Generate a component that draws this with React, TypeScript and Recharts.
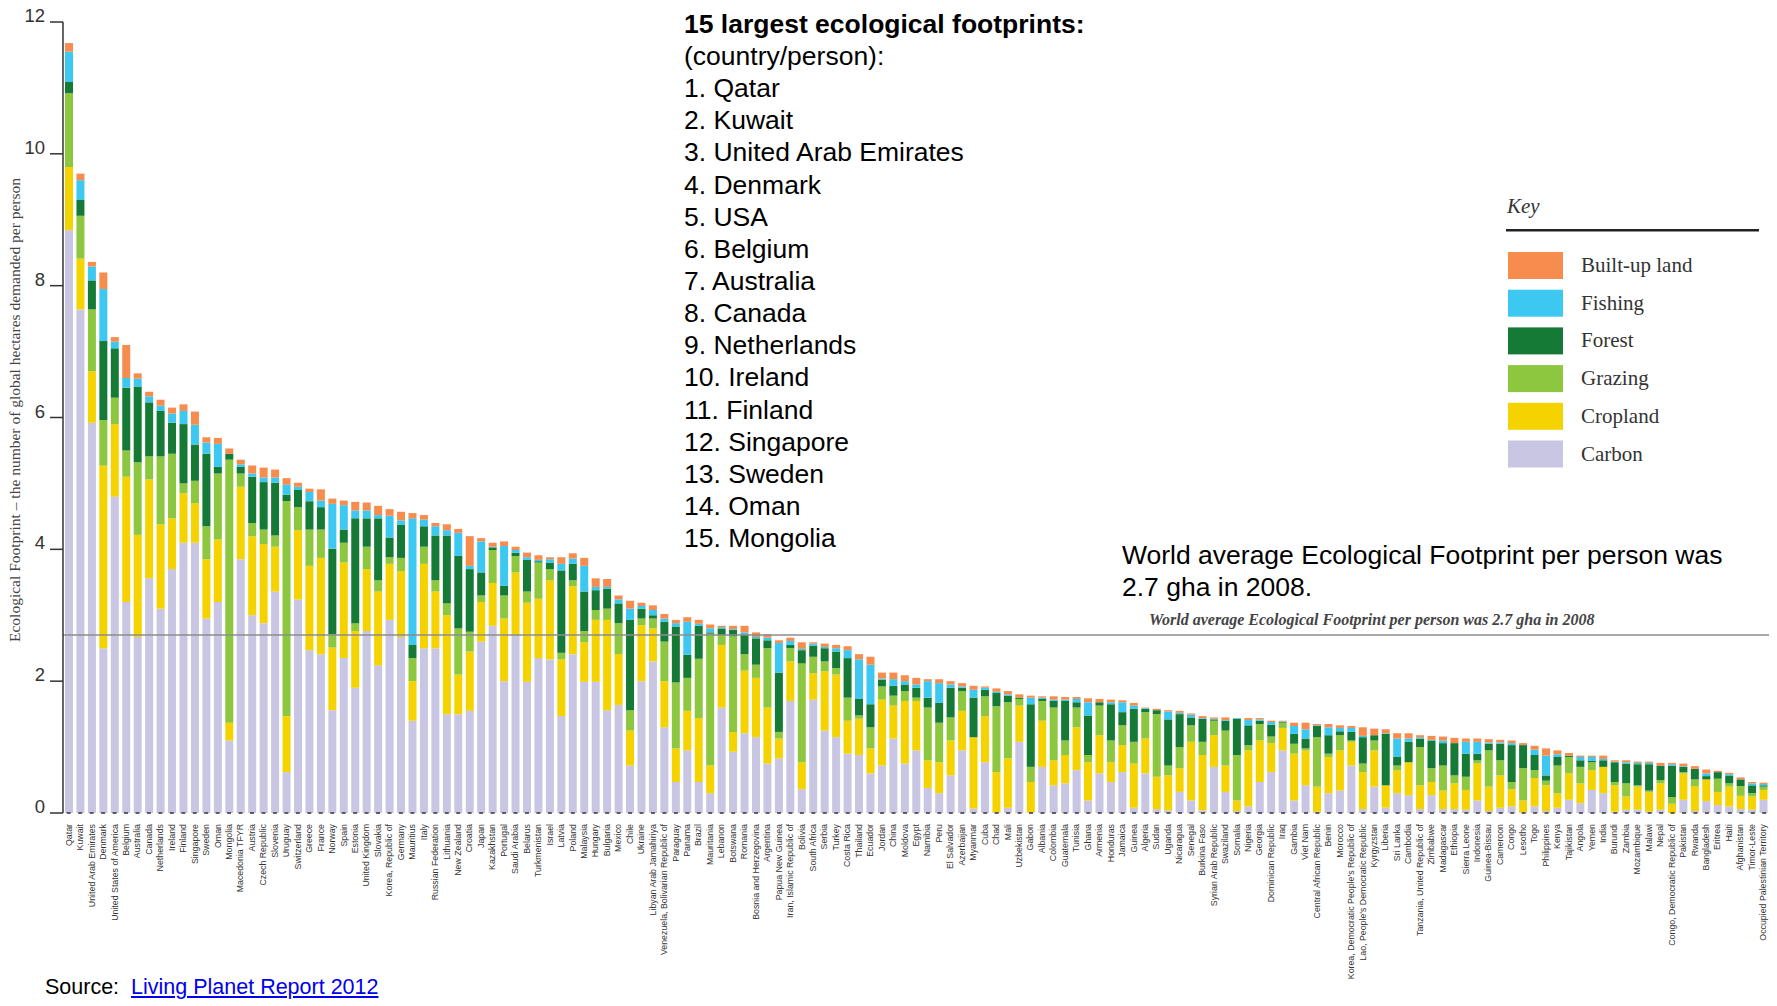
import React from "react";
import { BarChart, Bar, XAxis, YAxis, ReferenceLine } from "recharts";

const countries = [
  "Qatar", "Kuwait", "United Arab Emirates", "Denmark", "United States of America", "Belgium", "Australia", "Canada", "Netherlands", "Ireland",
  "Finland", "Singapore", "Sweden", "Oman", "Mongolia", "Macedonia TFYR", "Austria", "Czech Republic", "Slovenia", "Uruguay",
  "Switzerland", "Greece", "France", "Norway", "Spain", "Estonia", "United Kingdom", "Slovakia", "Korea, Republic of", "Germany",
  "Mauritius", "Italy", "Russian Federation", "Lithuania", "New Zealand", "Croatia", "Japan", "Kazakhstan", "Portugal", "Saudi Arabia",
  "Belarus", "Turkmenistan", "Israel", "Latvia", "Poland", "Malaysia", "Hungary", "Bulgaria", "Mexico", "Chile",
  "Ukraine", "Libyan Arab Jamahiriya", "Venezuela, Bolivarian Republic of", "Paraguay", "Panama", "Brazil", "Mauritania", "Lebanon", "Botswana", "Romania",
  "Bosnia and Herzegovina", "Argentina", "Papua New Guinea", "Iran, Islamic Republic of", "Bolivia", "South Africa", "Serbia", "Turkey", "Costa Rica", "Thailand",
  "Ecuador", "Jordan", "China", "Moldova", "Egypt", "Namibia", "Peru", "El Salvador", "Azerbaijan", "Myanmar",
  "Cuba", "Chad", "Mali", "Uzbekistan", "Gabon", "Albania", "Colombia", "Guatemala", "Tunisia", "Ghana",
  "Armenia", "Honduras", "Jamaica", "Guinea", "Algeria", "Sudan", "Uganda", "Nicaragua", "Senegal", "Burkina Faso",
  "Syrian Arab Republic", "Swaziland", "Somalia", "Nigeria", "Georgia", "Dominican Republic", "Iraq", "Gambia", "Viet Nam", "Central African Republic",
  "Benin", "Morocco", "Korea, Democratic People's Republic of", "Lao, People's Democratic Republic", "Kyrgyzstan", "Liberia", "Sri Lanka", "Cambodia", "Tanzania, United Republic of", "Zimbabwe",
  "Madagascar", "Ethiopia", "Sierra Leone", "Indonesia", "Guinea-Bissau", "Cameroon", "Congo", "Lesotho", "Togo", "Philippines",
  "Kenya", "Tajikistan", "Angola", "Yemen", "India", "Burundi", "Zambia", "Mozambique", "Malawi", "Nepal",
  "Congo, Democratic Republic of", "Pakistan", "Rwanda", "Bangladesh", "Eritrea", "Haiti", "Afghanistan", "Timor-Leste", "Occupied Palestinian Territory",
];

const carbon = [
  8.84, 7.64, 5.92, 2.5, 4.8, 3.2, 2.67, 3.56, 3.1, 3.7,
  4.1, 4.1, 2.95, 3.2, 1.1, 3.85, 3.0, 2.88, 3.36, 0.62,
  3.24, 2.47, 2.41, 1.56, 2.35, 1.9, 2.76, 2.24, 2.93, 2.67,
  1.4, 2.5, 2.5, 1.5, 1.5, 1.55, 2.6, 2.84, 2.0, 2.7,
  1.99, 2.35, 2.33, 1.47, 2.41, 1.99, 1.99, 1.56, 1.64, 0.72,
  2.0, 2.3, 1.3, 0.47, 0.95, 0.47, 0.3, 1.6, 0.93, 1.21,
  1.15, 0.75, 0.83, 1.7, 0.36, 1.72, 1.25, 1.15, 0.9, 0.88,
  0.6, 0.72, 1.13, 0.75, 0.95, 0.38, 0.3, 0.57, 0.95, 0.07,
  0.77, 0.01, 0.08, 1.08, 0.01, 0.7, 0.42, 0.45, 0.65, 0.19,
  0.6, 0.47, 0.62, 0.08, 0.6, 0.06, 0.04, 0.32, 0.19, 0.04,
  0.7, 0.32, 0.03, 0.1, 0.47, 0.62, 0.95, 0.19, 0.42, 0.02,
  0.3, 0.34, 0.72, 0.06, 0.4, 0.08, 0.3, 0.27, 0.06, 0.27,
  0.06, 0.06, 0.05, 0.19, 0.03, 0.08, 0.1, 0.01, 0.1, 0.03,
  0.08, 0.2, 0.15, 0.35, 0.3, 0.02, 0.05, 0.05, 0.02, 0.05,
  0.0, 0.2, 0.03, 0.18, 0.12, 0.1, 0.06, 0.05, 0.2,
];

const cropland = [
  0.96, 0.77, 0.78, 2.77, 1.1, 1.9, 1.55, 1.5, 1.28, 0.77,
  0.75, 0.6, 0.9, 0.95, 0.27, 1.1, 1.2, 1.2, 0.68, 0.85,
  1.05, 1.28, 1.46, 0.95, 1.45, 0.86, 0.94, 1.12, 0.85, 1.0,
  0.6, 1.28, 0.86, 1.5, 0.6, 0.9, 0.6, 0.65, 0.95, 0.95,
  1.2, 0.9, 1.2, 0.86, 1.03, 0.6, 0.94, 1.37, 0.77, 0.53,
  0.85, 0.5, 0.7, 0.51, 0.6, 0.97, 0.42, 0.95, 0.3, 0.95,
  0.9, 0.85, 0.3, 0.6, 0.41, 0.4, 0.9, 0.95, 0.5, 0.55,
  0.38, 1.0, 0.5, 0.95, 0.75, 0.42, 0.47, 0.53, 0.6, 1.08,
  0.7, 0.61, 0.75, 0.55, 0.46, 0.7, 0.38, 0.43, 0.65, 0.58,
  0.58, 0.3, 0.41, 0.67, 0.53, 0.49, 0.53, 0.36, 0.89, 0.84,
  0.48, 0.4, 0.16, 0.85, 0.63, 0.44, 0.34, 0.71, 0.53, 0.38,
  0.55, 0.61, 0.36, 0.56, 0.55, 0.34, 0.35, 0.5, 0.36, 0.2,
  0.28, 0.39, 0.3, 0.56, 0.37, 0.49, 0.26, 0.18, 0.43, 0.39,
  0.22, 0.4, 0.3, 0.3, 0.4, 0.4, 0.2, 0.35, 0.3, 0.4,
  0.14, 0.4, 0.38, 0.33, 0.2, 0.3, 0.2, 0.2, 0.15,
];

const grazing = [
  1.12, 0.65, 0.94, 0.69, 0.4, 0.4, 1.1, 0.35, 1.03, 0.98,
  0.15, 0.34, 0.5, 1.0, 3.99, 0.2, 0.2, 0.22, 0.17, 3.26,
  0.35, 0.55, 0.43, 0.2, 0.3, 0.12, 0.34, 0.17, 0.1, 0.2,
  0.35, 0.26, 0.17, 0.18, 0.7, 0.3, 0.1, 0.5, 0.35, 0.25,
  0.17, 0.55, 0.17, 0.1, 0.09, 0.17, 0.15, 0.17, 0.47, 0.31,
  0.1, 0.15, 0.6, 1.0, 0.5, 0.9, 2.0, 0.15, 1.45, 0.25,
  0.2, 0.9, 0.1, 0.2, 1.5, 0.25, 0.15, 0.1, 0.35, 0.05,
  0.32, 0.2, 0.15, 0.15, 0.05, 0.8, 0.6, 0.35, 0.3, 0.0,
  0.3, 1.0, 0.85, 0.1, 0.23, 0.3, 0.8, 0.22, 0.3, 0.11,
  0.45, 0.33, 0.3, 0.33, 0.4, 0.95, 0.15, 0.32, 0.25, 0.2,
  0.22, 0.53, 0.69, 0.08, 0.25, 0.1, 0.08, 0.15, 0.03, 0.75,
  0.05, 0.23, 0.02, 0.13, 0.15, 0.0, 0.07, 0.0, 0.58, 0.21,
  0.38, 0.12, 0.2, 0.05, 0.55, 0.23, 0.11, 0.49, 0.12, 0.07,
  0.42, 0.25, 0.25, 0.12, 0.0, 0.05, 0.2, 0.02, 0.02, 0.05,
  0.1, 0.02, 0.1, 0.0, 0.2, 0.05, 0.15, 0.05, 0.05,
];

const forest = [
  0.17, 0.24, 0.44, 1.2, 0.75, 0.95, 1.15, 0.82, 0.69, 0.47,
  0.9, 0.55, 1.1, 0.1, 0.09, 0.1, 0.7, 0.72, 0.8, 0.1,
  0.26, 0.43, 0.34, 1.3, 0.2, 1.59, 0.43, 0.94, 0.3, 0.5,
  0.2, 0.31, 0.68, 1.03, 1.1, 0.95, 0.35, 0.04, 0.15, 0.05,
  0.48, 0.02, 0.1, 1.25, 0.25, 0.6, 0.3, 0.3, 0.3, 1.37,
  0.15, 0.05, 0.3, 0.85, 0.35, 0.5, 0.02, 0.1, 0.1, 0.3,
  0.4, 0.12, 0.9, 0.05, 0.2, 0.17, 0.2, 0.25, 0.6, 0.25,
  0.35, 0.1, 0.15, 0.1, 0.15, 0.15, 0.3, 0.45, 0.05, 0.6,
  0.1, 0.2, 0.1, 0.02, 0.95, 0.03, 0.1, 0.6, 0.08, 0.6,
  0.05, 0.55, 0.2, 0.5, 0.05, 0.06, 0.7, 0.5, 0.12, 0.35,
  0.02, 0.15, 0.55, 0.3, 0.05, 0.18, 0.01, 0.15, 0.15, 0.17,
  0.28, 0.06, 0.13, 0.4, 0.08, 0.78, 0.13, 0.31, 0.13, 0.42,
  0.34, 0.49, 0.35, 0.1, 0.1, 0.25, 0.56, 0.35, 0.23, 0.08,
  0.13, 0.02, 0.1, 0.02, 0.1, 0.3, 0.3, 0.32, 0.4, 0.22,
  0.48, 0.08, 0.16, 0.05, 0.1, 0.12, 0.1, 0.12, 0.02,
];

const fishing = [
  0.46, 0.3, 0.21, 0.79, 0.1, 0.15, 0.12, 0.09, 0.08, 0.14,
  0.2, 0.3, 0.17, 0.35, 0.0, 0.04, 0.05, 0.07, 0.08, 0.15,
  0.05, 0.14, 0.1, 0.68, 0.37, 0.12, 0.12, 0.05, 0.33, 0.07,
  1.92, 0.1, 0.14, 0.08, 0.35, 0.05, 0.47, 0.01, 0.6, 0.04,
  0.04, 0.02, 0.05, 0.1, 0.08, 0.39, 0.05, 0.03, 0.06, 0.17,
  0.04, 0.08, 0.05, 0.05, 0.5, 0.03, 0.06, 0.02, 0.01, 0.03,
  0.02, 0.04, 0.45, 0.06, 0.02, 0.03, 0.02, 0.05, 0.12, 0.6,
  0.6, 0.02, 0.1, 0.05, 0.05, 0.25, 0.3, 0.05, 0.02, 0.12,
  0.03, 0.02, 0.02, 0.0, 0.1, 0.02, 0.02, 0.02, 0.05, 0.2,
  0.0, 0.03, 0.15, 0.05, 0.01, 0.0, 0.12, 0.02, 0.04, 0.01,
  0.01, 0.01, 0.01, 0.08, 0.02, 0.04, 0.01, 0.12, 0.14, 0.01,
  0.12, 0.05, 0.06, 0.02, 0.0, 0.01, 0.28, 0.05, 0.02, 0.01,
  0.04, 0.0, 0.18, 0.18, 0.02, 0.02, 0.03, 0.0, 0.08, 0.3,
  0.04, 0.0, 0.05, 0.06, 0.02, 0.01, 0.02, 0.02, 0.02, 0.0,
  0.02, 0.01, 0.0, 0.04, 0.0, 0.02, 0.0, 0.03, 0.02,
];

const builtUp = [
  0.13, 0.1, 0.07, 0.25, 0.07, 0.5, 0.08, 0.07, 0.09, 0.09,
  0.1, 0.2, 0.08, 0.09, 0.08, 0.07, 0.12, 0.15, 0.12, 0.1,
  0.06, 0.05, 0.17, 0.08, 0.07, 0.13, 0.12, 0.14, 0.1, 0.13,
  0.08, 0.07, 0.05, 0.09, 0.06, 0.45, 0.05, 0.06, 0.07, 0.05,
  0.07, 0.07, 0.03, 0.1, 0.08, 0.12, 0.13, 0.12, 0.06, 0.12,
  0.05, 0.07, 0.07, 0.05, 0.07, 0.06, 0.06, 0.02, 0.05, 0.1,
  0.07, 0.05, 0.04, 0.05, 0.1, 0.02, 0.05, 0.05, 0.06, 0.08,
  0.12, 0.09, 0.1, 0.09, 0.1, 0.03, 0.06, 0.05, 0.05, 0.06,
  0.02, 0.05, 0.05, 0.05, 0.03, 0.02, 0.05, 0.04, 0.03, 0.06,
  0.05, 0.04, 0.03, 0.04, 0.01, 0.02, 0.02, 0.03, 0.02, 0.03,
  0.02, 0.04, 0.0, 0.03, 0.02, 0.02, 0.01, 0.05, 0.1, 0.02,
  0.05, 0.04, 0.03, 0.13, 0.1, 0.06, 0.08, 0.08, 0.03, 0.06,
  0.06, 0.08, 0.05, 0.05, 0.05, 0.04, 0.04, 0.03, 0.06, 0.11,
  0.06, 0.04, 0.02, 0.02, 0.05, 0.02, 0.03, 0.02, 0.02, 0.04,
  0.02, 0.04, 0.04, 0.06, 0.02, 0.02, 0.03, 0.02, 0.02,
];

const yTicks = [0, 2, 4, 6, 8, 10, 12];
const worldAverage = 2.7;

const topList = [
  "Qatar", "Kuwait", "United Arab Emirates", "Denmark", "USA", "Belgium", "Australia", "Canada",
  "Netherlands", "Ireland", "Finland", "Singapore", "Sweden", "Oman", "Mongolia",
];

const series = [
  { key: "carbon", label: "Carbon", color: "#C8C6E3" },
  { key: "cropland", label: "Cropland", color: "#F4D300" },
  { key: "grazing", label: "Grazing", color: "#8DC63F" },
  { key: "forest", label: "Forest", color: "#157A35" },
  { key: "fishing", label: "Fishing", color: "#3DC8F2" },
  { key: "builtUp", label: "Built-up land", color: "#F68C4E" },
];

const data = countries.map((name, i) => ({
  name,
  carbon: carbon[i],
  cropland: cropland[i],
  grazing: grazing[i],
  forest: forest[i],
  fishing: fishing[i],
  builtUp: builtUp[i],
}));

const SANS = "'Liberation Sans', Arial, Helvetica, sans-serif";
const SERIF = "'Liberation Serif', 'Times New Roman', serif";

const XTick = (props: any) => {
  const { x, y, payload } = props;
  return (
    <text
      transform={`translate(${x + 3},${y + 11}) rotate(-90)`}
      textAnchor="end"
      fontSize={8.8}
      fontFamily={SANS}
      fill="#333"
    >
      {payload.value}
    </text>
  );
};

const YTick = (props: any) => {
  const { x, y, payload } = props;
  return (
    <text x={x} y={y} dy={0} textAnchor="end" fontSize={18.5} fontFamily={SANS} fill="#333">
      {payload.value}
    </text>
  );
};

export default function App() {
  const legendItems = [...series].reverse();
  return (
    <div style={{ position: "absolute", left: 0, top: 0, width: 1777, height: 1006, background: "#fff" }}>
      <div style={{ position: "absolute", left: 0, top: 0 }}>
        <BarChart
          width={1777}
          height={1006}
          data={data}
          margin={{ top: 22, right: 8, bottom: 0, left: 0 }}
          barSize={8}
        >
          <XAxis
            dataKey="name"
            interval={0}
            tick={<XTick />}
            tickLine={false}
            tickSize={0}
            tickMargin={0}
            height={193}
            axisLine={{ stroke: "#333", strokeWidth: 1.6, strokeDasharray: "4 7.456", strokeDashoffset: 7.73 }}
          />
          <YAxis
            domain={[0, 12]}
            ticks={yTicks}
            width={63}
            tickSize={13}
            tickMargin={5}
            tick={<YTick />}
            axisLine={{ stroke: "#333", strokeWidth: 1.5 }}
            tickLine={{ stroke: "#333", strokeWidth: 1.5 }}
            allowDataOverflow
          />
          {series.map((s) => (
            <Bar key={s.key} dataKey={s.key} stackId="fp" fill={s.color} isAnimationActive={false} />
          ))}
          <ReferenceLine y={worldAverage} stroke="#8c8c8c" strokeWidth={1.5} />
        </BarChart>
      </div>

      <svg
        width={1777}
        height={1006}
        style={{ position: "absolute", left: 0, top: 0, pointerEvents: "none" }}
      >
        <text
          transform="translate(20,410) rotate(-90)"
          textAnchor="middle"
          fontSize={15.5}
          fontFamily={SERIF}
          fill="#444"
        >
          Ecological Footprint – the number of global hectares demanded per person
        </text>

        <text x={684} y={33} fontSize={26.5} fontWeight="bold" fontFamily={SANS} fill="#000">
          15 largest ecological footprints:
        </text>
        <text x={684} y={65} fontSize={26.5} fontFamily={SANS} fill="#000">
          (country/person):
        </text>
        {topList.map((c, i) => (
          <text key={c} x={684} y={97.1 + i * 32.15} fontSize={26.5} fontFamily={SANS} fill="#000">
            {`${i + 1}. ${c}`}
          </text>
        ))}

        <text x={1122} y={564} fontSize={26.5} fontFamily={SANS} fill="#000">
          World average Ecological Footprint per person was
        </text>
        <text x={1122} y={596} fontSize={26.5} fontFamily={SANS} fill="#000">
          2.7 gha in 2008.
        </text>
        <text x={1149} y={625} fontSize={16} fontStyle="italic" fontWeight="bold" fontFamily={SERIF} fill="#444">
          World average Ecological Footprint per person was 2.7 gha in 2008
        </text>

        <text x={1507} y={213} fontSize={21} fontStyle="italic" fontFamily={SERIF} fill="#333">
          Key
        </text>
        <rect x={1506} y={229} width={253} height={2.5} fill="#222" />
        {legendItems.map((s, i) => (
          <g key={s.key}>
            <rect x={1508} y={252 + i * 37.7} width={55} height={27} fill={s.color} />
            <text x={1581} y={272 + i * 37.7} fontSize={21} fontFamily={SERIF} fill="#333">
              {s.label}
            </text>
          </g>
        ))}
      </svg>

      <div
        style={{
          position: "absolute",
          left: 45,
          top: 976,
          fontSize: 21.5,
          lineHeight: "23px",
          fontFamily: SANS,
          color: "#000",
          whiteSpace: "pre",
        }}
      >
        {"Source:  "}
        <a href="#" style={{ color: "#0000EE", textDecoration: "underline" }}>
          Living Planet Report 2012
        </a>
      </div>
    </div>
  );
}
